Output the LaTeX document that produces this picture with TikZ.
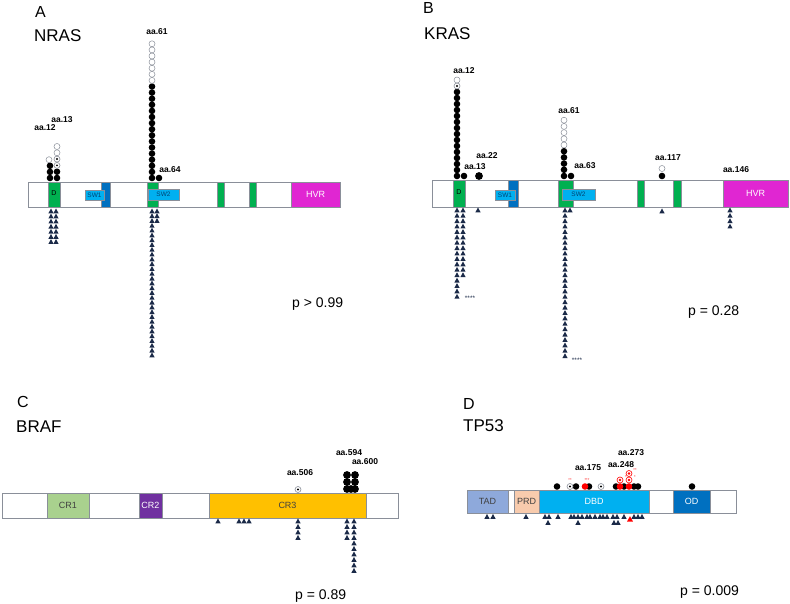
\documentclass[tikz,border=0pt]{standalone}
\usepackage{fontspec}
\setmainfont{Liberation Sans}
\usepackage{tikz}

\definecolor{domgreen}{HTML}{00B050}
\definecolor{swlight}{HTML}{00B0F0}
\definecolor{swdark}{HTML}{0070C0}
\definecolor{hvrpink}{HTML}{E026D2}
\definecolor{navy}{HTML}{1B2A48}
\definecolor{outl}{HTML}{8A8F99}
\definecolor{crone}{HTML}{A9D18E}
\definecolor{crtwo}{HTML}{7030A0}
\definecolor{crthree}{HTML}{FFC000}
\definecolor{tadblue}{HTML}{8EA9DB}
\definecolor{prdpeach}{HTML}{F8CBAD}
\definecolor{mutred}{HTML}{FF0000}

\tikzset{
    fillc/.pic={\fill[black] (0,0) circle (3.3pt);},
    bigc/.pic={\fill[black] (0,0) circle (3.9pt);},
    openc/.pic={\draw[outl, fill=white, line width=0.5pt] (0,0) circle (3pt);},
    dotc/.pic={\draw[outl, fill=white, line width=0.6pt] (0,0) circle (3pt);
        \fill[black] (0,0) circle (1.1pt);},
    redc/.pic={\fill[mutred] (0,0) circle (3.3pt);},
    reddotc/.pic={\draw[mutred, fill=white, line width=0.6pt] (0,0) circle (3pt);
        \fill[mutred] (0,0) circle (1.3pt);},
    tri/.pic={\fill[navy] (-2.6,2.3) -- (2.6,2.3) -- (0,-2.5) -- cycle;},
    redtri/.pic={\fill[mutred] (-3,2.6) -- (3,2.6) -- (0,-2.8) -- cycle;},
}

\begin{document}
\begin{tikzpicture}[x=1pt, y=-1pt, every node/.style={inner sep=0pt},
    panel/.style={anchor=west, font=\fontsize{16}{16}\selectfont},
    gene/.style={anchor=west, font=\fontsize{17}{17}\selectfont},
    aalbl/.style={font=\bfseries\fontsize{8.5}{9}\selectfont},
    pval/.style={anchor=west, font=\fontsize{14}{14}\selectfont},
    dom/.style={draw=outl, line width=0.7pt},
    domlbl/.style={font=\fontsize{9}{9}\selectfont},
    swlbl/.style={font=\fontsize{6.5}{7}\selectfont, text=swdark!60!black},
    stars/.style={font=\fontsize{6.5}{6}\selectfont, text=navy}]
    \useasboundingbox (0,0) rectangle (790,604);

    % A: NRAS
    \node[panel] (tA) at (35,12) {A};
    \node[gene] (gA) at (34,36) {NRAS};
    \draw[dom, fill=white] (28,182) rectangle (340,207);
    \draw[dom, fill=domgreen] (48,182) rectangle (60,207);
    \node[domlbl, font=\fontsize{7}{7}\selectfont] (dA) at (54,193) {D};
    \draw[dom, fill=swdark] (101,182) rectangle (110,207);
    \draw[dom, fill=swlight] (85,190) rectangle (104,200);
    \node[swlbl] (swA1) at (94.5,195) {SW1};
    \draw[dom, fill=domgreen] (147,182) rectangle (158,207);
    \draw[dom, fill=swlight] (148,189) rectangle (179,200);
    \node[swlbl] (swA2) at (163.5,194.5) {SW2};
    \draw[dom, fill=domgreen] (217,182) rectangle (224,207);
    \draw[dom, fill=domgreen] (249,182) rectangle (256,207);
    \draw[dom, fill=hvrpink] (291,182) rectangle (340,207);
    \node[domlbl, text=white] (hA) at (315.5,194.5) {HVR};

    \foreach \k in {0,...,2} \pic at (50,178-6.1*\k) {fillc};
    \pic at (49,159.7) {openc};
    \foreach \k in {0,1} \pic at (57,178-6.3*\k) {fillc};
    \foreach \k in {2,3} \pic at (57,178-6.3*\k) {dotc};
    \foreach \k in {4,5} \pic at (57,178-6.3*\k) {openc};
    \foreach \k in {0,...,15} \pic at (152,178-6.1*\k) {fillc};
    \foreach \k in {16,...,22} \pic at (152,178-6.1*\k) {openc};
    \pic at (159,178) {fillc};
    \node[aalbl] (a12A) at (45,128) {aa.12};
    \node[aalbl] (a13A) at (62,120) {aa.13};
    \node[aalbl] (a61A) at (157,32) {aa.61};
    \node[aalbl] (a64A) at (170,170) {aa.64};

    \foreach \k in {0,...,6} {
        \pic at (51,211+5.1*\k) {tri};
        \pic at (56,211+5.1*\k) {tri};
    }
    \foreach \k in {0,...,30} \pic at (152,211+4.8*\k) {tri};
    \foreach \k in {0,...,2} \pic at (157,211+4.8*\k) {tri};
    \node[pval] (pA) at (292,304) {p > 0.99};

    % B: KRAS
    \node[panel] (tB) at (423,8) {B};
    \node[gene] (gB) at (424,34) {KRAS};
    \draw[dom, fill=white] (432,180) rectangle (788,207);
    \draw[dom, fill=domgreen] (453,180) rectangle (465,207);
    \node[domlbl, font=\fontsize{7}{7}\selectfont] (dB) at (459,192) {D};
    \draw[dom, fill=swdark] (508,180) rectangle (518,207);
    \draw[dom, fill=swlight] (495,190) rectangle (515,200);
    \node[swlbl] (swB1) at (505,195) {SW1};
    \draw[dom, fill=domgreen] (558,180) rectangle (573,207);
    \draw[dom, fill=swlight] (562,189) rectangle (595,200);
    \node[swlbl] (swB2) at (578.5,194.5) {SW2};
    \draw[dom, fill=domgreen] (637,180) rectangle (644,207);
    \draw[dom, fill=domgreen] (673,180) rectangle (681,207);
    \draw[dom, fill=hvrpink] (723,180) rectangle (788,207);
    \node[domlbl, text=white] (hB) at (755.5,193.5) {HVR};

    \foreach \k in {0,...,14} \pic at (457,176-6*\k) {fillc};
    \pic at (457,86) {dotc};
    \pic at (457,80) {openc};
    \pic at (464,176) {fillc};
    \pic at (479,176) {bigc};
    \foreach \k in {0,...,4} \pic at (564,176-6.2*\k) {fillc};
    \foreach \k in {5,...,9} \pic at (564,176-6.2*\k) {openc};
    \pic at (571,176) {fillc};
    \pic at (662,176) {fillc};
    \pic at (662,168.5) {openc};
    \node[aalbl] (a12B) at (464,71) {aa.12};
    \node[aalbl] (a13B) at (475,167) {aa.13};
    \node[aalbl] (a22B) at (487,156) {aa.22};
    \node[aalbl] (a61B) at (569,111) {aa.61};
    \node[aalbl] (a63B) at (585,166) {aa.63};
    \node[aalbl] (a117B) at (668,158) {aa.117};
    \node[aalbl] (a146B) at (736,170) {aa.146};

    \foreach \k in {0,...,16} \pic at (457,210+5.4*\k) {tri};
    \foreach \k in {0,...,12} \pic at (463,210+5.4*\k) {tri};
    \pic at (478,210) {tri};
    \node[stars] (sB1) at (470,298) {****};
    \foreach \k in {0,...,27} \pic at (565,210+5.4*\k) {tri};
    \pic at (570,210) {tri};
    \node[stars] (sB2) at (577,360) {****};
    \pic at (662,211) {tri};
    \foreach \k in {0,...,3} \pic at (730,210+5.4*\k) {tri};
    \node[pval] (pB) at (688,312) {p = 0.28};

    % C: BRAF
    \node[panel] (tC) at (17,402) {C};
    \node[gene] (gC) at (16,427) {BRAF};
    \draw[dom, fill=white] (2,493) rectangle (398,518);
    \draw[dom, fill=crone] (47,493) rectangle (89,518);
    \node[domlbl, text=black!75] (c1) at (68,505.5) {CR1};
    \draw[dom, fill=crtwo] (139,493) rectangle (162,518);
    \node[domlbl, text=white] (c2) at (150.5,505.5) {CR2};
    \draw[dom, fill=crthree] (209,493) rectangle (366,518);
    \node[domlbl, text=black!75] (c3) at (287.5,505.5) {CR3};

    \pic at (298,489.5) {dotc};
    \foreach \k in {0,...,2} {
        \pic at (347,489-7*\k) {bigc};
        \pic at (355,489-7*\k) {bigc};
    }
    \pic at (351,489) {bigc};
    \node[aalbl] (a506C) at (300,473) {aa.506};
    \node[aalbl] (a594C) at (349,453) {aa.594};
    \node[aalbl] (a600C) at (365,462) {aa.600};

    \foreach \x in {218,239,244,249} \pic at (\x,521) {tri};
    \foreach \k in {0,...,3} {
        \pic at (298,521+5.5*\k) {tri};
        \pic at (347,521+5.5*\k) {tri};
    }
    \foreach \k in {0,...,9} \pic at (354,521+5.5*\k) {tri};
    \node[pval] (pC) at (295,596) {p = 0.89};

    % D: TP53
    \node[panel] (tD) at (463,404) {D};
    \node[gene] (gD) at (463,426) {TP53};
    \draw[dom, fill=white] (467,490) rectangle (736,513);
    \draw[dom, fill=tadblue] (467,490) rectangle (508,513);
    \node[domlbl, text=black!75] (tad) at (487.5,501.5) {TAD};
    \draw[dom, fill=prdpeach] (514,490) rectangle (539,513);
    \node[domlbl, text=black!75] (prd) at (526.5,501.5) {PRD};
    \draw[dom, fill=swlight] (539,490) rectangle (649,513);
    \node[domlbl, text=white] (dbd) at (594,501.5) {DBD};
    \draw[dom, fill=swdark] (673,490) rectangle (710,513);
    \node[domlbl, text=white] (od) at (691.5,501.5) {OD};

    \foreach \x in {557,576,589,616,624,634,638,692} \pic at (\x,486.5) {fillc};
    \foreach \x in {570,601} \pic at (\x,486.5) {dotc};
    \foreach \x in {585,620,629} \pic at (\x,486.5) {redc};
    \pic at (620,480) {reddotc};
    \pic at (629,480) {reddotc};
    \pic at (629,473.5) {reddotc};
    \node[font=\fontsize{4}{4}\selectfont, text=mutred] (r1) at (570,480.5) {**};
    \node[font=\fontsize{4}{4}\selectfont, text=mutred] (r2) at (587,480.5) {***};
    \node[font=\fontsize{4}{4}\selectfont, text=mutred] (r3) at (626,477) {*};
    \node[font=\fontsize{4}{4}\selectfont, text=mutred] (r4) at (635,470.5) {**};
    \node[font=\fontsize{4}{4}\selectfont, text=mutred] (r5) at (635,477) {*};
    \node[aalbl] (a175D) at (588,468) {aa.175};
    \node[aalbl] (a248D) at (621,465) {aa.248};
    \node[aalbl] (a273D) at (631,453) {aa.273};

    \foreach \x in {487,493,526,545,549,558,571,574,578,582,587,590,595,600,603,607,613,617,624,634,638,642}
        \pic at (\x,516.5) {tri};
    \foreach \x in {548,578,614,618} \pic at (\x,522.5) {tri};
    \pic at (630,519) {redtri};
    \node[pval] (pD) at (680,592) {p = 0.009};
\end{tikzpicture}
\end{document}
